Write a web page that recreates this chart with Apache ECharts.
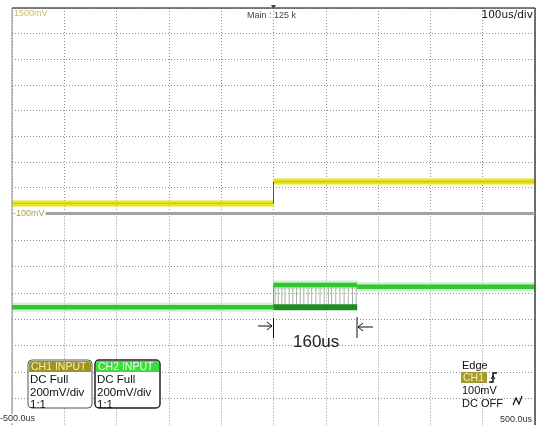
<!DOCTYPE html>
<html><head><meta charset="utf-8">
<script src="https://cdn.jsdelivr.net/npm/echarts@6/dist/echarts.min.js"></script>
<style>html,body{margin:0;padding:0;background:#fff}#c{width:540px;height:425px}</style>
</head><body><div id="c"></div>
<script>
// ---- data (time in us, voltage in mV) ----
const timeMin = -500, timeMax = 500, timeStep = 100;
const ch1Range = [-100, 1500];
const ch2Range = [-100, 1500];
const divisions = 8;
const ch1Time = [-500, 0, 0, 500];
const ch1Value = [-25, -25, 145, 145];
const ch2Time = [-500, 0, 0, 160, 160, 500];
const ch2Value = [790, 790, 960, 960, 945, 945];
const burstStart = 0, burstEnd = 160;
const burstLow = 790, burstHigh = 960;
const burstEdges = [3, 9, 16, 22, 30, 37, 44, 51, 58, 66, 73, 81, 89, 97, 105, 111, 119, 127, 135, 143, 151, 158];
const topLeftLabel = '1500mV', bottomLeftLabel = '-100mV';
const timeLeftLabel = '-500.0us', timeRightLabel = '500.0us';
const timebase = '100us/div', mainLabel = 'Main : 125 k';
const widthLabel = '160us';
const ch1Info = ['CH1 INPUT', 'DC Full', '200mV/div', '1:1'];
const ch2Info = ['CH2 INPUT', 'DC Full', '200mV/div', '1:1'];
const trigInfo = ['Edge', 'CH1', '100mV', 'DC OFF'];

function splitTrace(times, values) {
  const levels = [], edges = [];
  for (let i = 0; i < times.length - 1; i++) {
    if (times[i] === times[i + 1]) edges.push([times[i], values[i], values[i + 1]]);
    else levels.push([[times[i], values[i]], [times[i + 1], values[i + 1]]]);
  }
  return {levels, edges};
}
const ch1 = splitTrace(ch1Time, ch1Value);
const ch2 = splitTrace(ch2Time, ch2Value);

const chart = echarts.init(document.getElementById('c'), null, {renderer: 'canvas'});
const gridLine = {show: true, lineStyle: {color: '#8f8f8f', type: [1, 2], width: 1}};
const xAx = (g) => ({gridIndex: g, type: 'value', min: timeMin, max: timeMax, interval: timeStep,
  axisLine: {show: false}, axisTick: {show: false}, axisLabel: {show: false}, splitLine: gridLine});
const yGrid = (g) => ({gridIndex: g, type: 'value', min: 0, max: divisions, interval: 1,
  axisLine: {show: false}, axisTick: {show: false}, axisLabel: {show: false}, splitLine: gridLine});
const yData = (g, r) => ({gridIndex: g, type: 'value', min: r[0], max: r[1], show: false});

const levelSeries = (levels, xi, yi, color, width, z, opacity) => levels.map(d => ({
  type: 'line', xAxisIndex: xi, yAxisIndex: yi, data: d, symbol: 'none', z,
  lineStyle: {color, width, opacity: opacity == null ? 1 : opacity}}));
const edgeSeries = (edges, xi, yi, color, width, z) => ({
  type: 'custom', xAxisIndex: xi, yAxisIndex: yi, z, data: edges, encode: {x: 0, y: [1, 2]},
  renderItem: (params, api) => {
    const a = api.coord([api.value(0), api.value(1)]);
    const b = api.coord([api.value(0), api.value(2)]);
    return {type: 'line', shape: {x1: a[0], y1: a[1], x2: b[0], y2: b[1]}, style: {stroke: color, lineWidth: width}};
  }});

const F = 'Liberation Sans';
const txt = (text, x, y, size, fill, extra) => ({type: 'text', z: 110,
  style: Object.assign({text, x, y, font: size + 'px "' + F + '"', fill, textVerticalAlign: 'middle'}, extra || {})});
const line = (x1, y1, x2, y2, stroke, w) => ({type: 'line', z: 105, shape: {x1, y1, x2, y2}, style: {stroke, lineWidth: w || 1}});
const poly = (points, stroke, w) => ({type: 'polyline', z: 110, shape: {points}, style: {stroke, lineWidth: w || 1, fill: null}});

function infoBox(x, w, info, headFill, headText, border, bw) {
  const y = 360, h = 48;
  return [
    {type: 'rect', z: 106, shape: {x, y, width: w, height: h, r: 4}, style: {fill: '#fff', stroke: border, lineWidth: bw}},
    {type: 'rect', z: 107, shape: {x: x + 1, y: y + 1, width: w - 2, height: 11, r: [3, 3, 0, 0]}, style: {fill: headFill}},
    txt(info[0], x + 3, y + 7, 10.5, headText),
    txt(info[1], x + 2, 379.5, 11.5, '#111'),
    txt(info[2], x + 2, 393, 11.5, '#111'),
    txt(info[3], x + 2, 404.5, 11.5, '#111')
  ];
}

const option = {
  animation: false,
  backgroundColor: '#fff',
  grid: [
    {left: 12, top: 8, width: 523, height: 205},
    {left: 12, top: 213.5, width: 523, height: 213}
  ],
  xAxis: [xAx(0), xAx(1)],
  yAxis: [yGrid(0), yData(0, ch1Range), yGrid(1), yData(1, ch2Range)],
  series: [
    ...levelSeries(ch1.levels, 0, 1, '#e8e520', 6, 5),
    ...levelSeries(ch1.levels, 0, 1, '#9c9a3a', 1, 6, 0.45),
    edgeSeries(ch1.edges, 0, 1, '#555', 1, 6),
    edgeSeries(burstEdges.map(t => [t, burstLow, burstHigh]), 1, 3, '#a9b0a9', 1, 4),
    ...levelSeries(ch2.levels, 1, 3, '#b6ebb6', 9, 3, 0.7),
    ...levelSeries(ch2.levels, 1, 3, '#30c830', 4.5, 5),
    edgeSeries(ch2.edges, 1, 3, '#7a9a7a', 1, 6),
    {type: 'line', xAxisIndex: 1, yAxisIndex: 3, data: [[burstStart, burstLow], [burstEnd, burstLow]], symbol: 'none', z: 6,
      lineStyle: {color: '#1e8c1e', width: 6}}
  ],
  graphic: [
    line(12, 8, 12, 425, '#8a8a8a', 1),
    line(12, 8, 535, 8, '#555', 1.5),
    line(535, 8, 535, 425, '#444', 1.5),
    {type: 'rect', z: 105, shape: {x: 12, y: 212, width: 523, height: 3}, style: {fill: '#a2a2a2'}},
    {type: 'polygon', z: 110, shape: {points: [[271, 5], [276, 5], [273.5, 9]]}, style: {fill: '#444'}},
    txt(topLeftLabel, 14, 14, 9, '#c9c070'),
    txt(bottomLeftLabel, 13, 214, 9, '#a89f48', {backgroundColor: '#fff', padding: [0, 1, 0, 0]}),
    txt(mainLabel, 247, 15.5, 9, '#444'),
    {type: 'text', z: 110, style: {text: timebase, x: 533, y: 15, font: '10.5px "DejaVu Sans"', fill: '#111', textAlign: 'right', textVerticalAlign: 'middle'}},
    // 160us marker
    line(273.5, 318, 273.5, 338, '#111', 1),
    line(258, 326, 272, 326, '#111', 1),
    poly([[267, 322], [272, 326], [267, 330]], '#111', 1),
    line(357, 317, 357, 338, '#111', 1),
    line(358, 327, 373, 327, '#111', 1),
    poly([[363, 323], [358, 327], [363, 331]], '#111', 1),
    txt(widthLabel, 293, 342, 17, '#222'),
    // info boxes
    ...infoBox(28, 64, ch1Info, '#9d9520', '#f2eeb0', '#555', 1),
    ...infoBox(95, 65, ch2Info, '#3ddc3d', '#eefcee', '#222', 1.5),
    // trigger info
    txt(trigInfo[0], 462, 365.5, 11, '#111'),
    {type: 'rect', z: 107, shape: {x: 461, y: 372, width: 26, height: 11}, style: {fill: '#a39b2c'}},
    txt(trigInfo[1], 463, 378, 10.5, '#f4f0b8'),
    poly([[489, 382], [493, 382], [493, 373], [497, 373]], '#111', 1.5),
    poly([[491, 379], [493, 376], [495, 379]], '#111', 1),
    txt(trigInfo[2], 462, 391, 11, '#111'),
    txt(trigInfo[3], 462, 404, 11, '#111'),
    poly([[513, 405], [516, 398], [519, 404], [522, 396]], '#111', 1.2),
    txt(timeLeftLabel, 0, 419, 9, '#333', {backgroundColor: '#fff'}),
    {type: 'text', z: 110, style: {text: timeRightLabel, x: 532, y: 420, font: '9px "' + F + '"', fill: '#333', textAlign: 'right', textVerticalAlign: 'middle', backgroundColor: '#fff'}}
  ]
};
chart.setOption(option);
</script></body></html>
